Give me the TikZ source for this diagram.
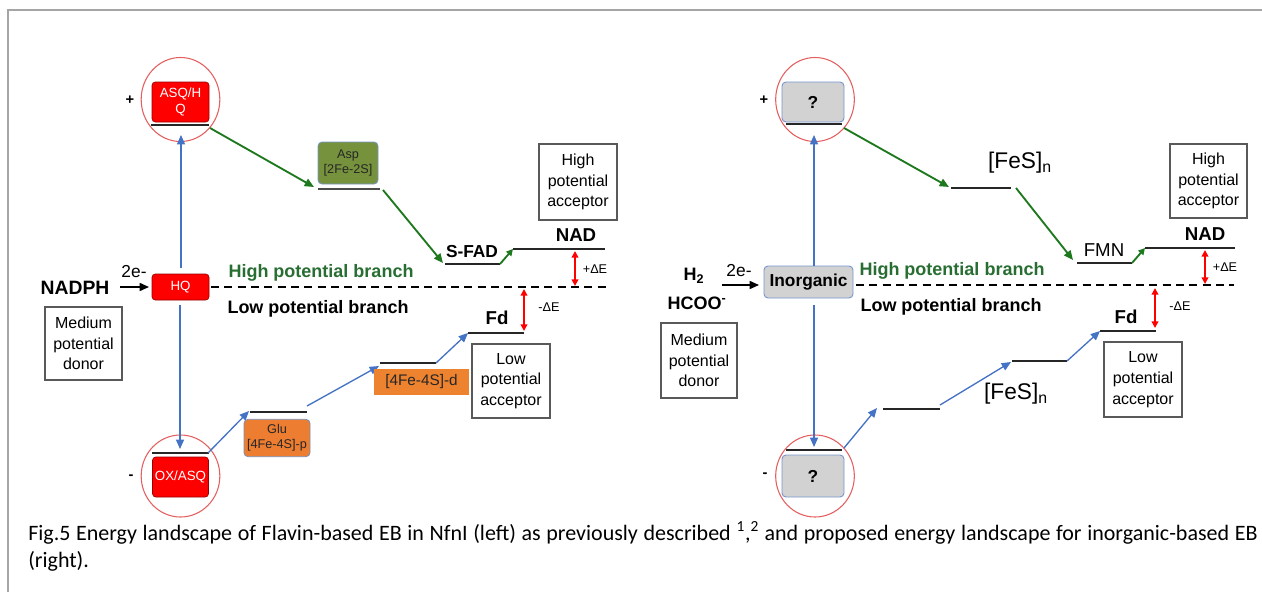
\documentclass[tikz,border=0pt]{standalone}
\usepackage{fontspec}
\setmainfont{Liberation Sans}
\newfontfamily\capfont{Carlito}
\usetikzlibrary{arrows.meta,shapes.geometric}
\definecolor{fbred}{RGB}{255,0,0}
\definecolor{ringred}{RGB}{228,95,95}
\definecolor{arrblue}{RGB}{68,114,196}
\definecolor{arrgreen}{RGB}{30,120,30}
\definecolor{txtgreen}{RGB}{40,110,50}
\definecolor{aspgreen}{RGB}{118,146,60}
\definecolor{gluorange}{RGB}{237,125,49}
\definecolor{boxgray}{RGB}{210,210,210}
\definecolor{boxblue}{RGB}{120,150,205}
\definecolor{framegray}{RGB}{165,165,165}
\tikzset{
  ring/.style={ellipse, draw=ringred, line width=0.8pt, minimum width=59pt, minimum height=63pt, inner sep=0pt},
  redbox/.style={rectangle, rounded corners=2.5pt, fill=fbred, draw=red!60!black, line width=0.5pt, text=white, font=\fontsize{10}{11.5}\selectfont, align=center, inner sep=0pt},
  aspbox/.style={rectangle, rounded corners=3pt, fill=aspgreen, draw=boxblue, line width=0.6pt, text=black!85, font=\fontsize{9.5}{11.5}\selectfont, align=center, inner sep=0pt},
  glubox/.style={rectangle, rounded corners=3pt, fill=gluorange, draw=boxblue!70!gray, line width=0.6pt, text=black!85, font=\fontsize{9.5}{11.5}\selectfont, align=center, inner sep=0pt},
  dbox/.style={rectangle, fill=gluorange!95!yellow, text=black!85, font=\fontsize{11.5}{12}\selectfont, inner sep=0pt},
  graybox/.style={rectangle, rounded corners=3pt, fill=boxgray, draw=boxblue, line width=0.7pt, text=black, font=\bfseries\fontsize{13}{14}\selectfont, inner sep=0pt},
  infobox/.style={rectangle, draw=black!65, line width=0.8pt, align=center, font=\fontsize{12}{15.5}\selectfont, inner sep=0pt},
  lvl/.style={line width=1.6pt, black!85},
  blarr/.style={arrblue, line width=1pt, -{Triangle[length=7pt,width=6pt]}},
  grarr/.style={arrgreen, line width=1.4pt, -{Triangle[length=7pt,width=6pt]}},
  blkarr/.style={black, line width=1.2pt, -{Triangle[length=7pt,width=6pt]}},
  dE/.style={red, line width=1.2pt, {Triangle[length=5pt,width=5pt]}-{Triangle[length=5pt,width=5pt]}},
  dashline/.style={line width=1.4pt, dash pattern=on 6pt off 4pt},
  lbl/.style={font=\bfseries\fontsize{13.5}{15}\selectfont, inner sep=0pt},
  small/.style={font=\fontsize{9.5}{11}\selectfont, inner sep=0pt},
  sign/.style={font=\bfseries\fontsize{11}{12}\selectfont, inner sep=0pt},
}
\begin{document}
\begin{tikzpicture}[x=0.75pt,y=-0.75pt]
\useasboundingbox (0,0) rectangle (1262,592);
\draw[framegray, line width=1.5pt] (8,592) -- (8,10) -- (1262,10);

% ================= LEFT PANEL =================
\node[ring] (c1) at (180.5,99.5) {};
\node[ring, minimum height=61.5pt] (c2) at (180.5,476) {};
\node[redbox, minimum width=42.75pt, minimum height=30pt] (asq) at (180.5,102) {ASQ/H\\Q};
\node[redbox, minimum width=42.75pt, minimum height=19.5pt] (hq) at (180.5,287) {HQ};
\node[redbox, minimum width=42pt, minimum height=30pt] (ox) at (180.5,477) {OX/ASQ};
\node[sign] (plusL) at (130,100) {+};
\node[sign] (minusL) at (131,477) {-};
\coordinate (La1) at (151,125); \coordinate (La2) at (209,125);
\coordinate (Lb1) at (152,453); \coordinate (Lb2) at (209,453);
\draw[lvl] (La1) -- (La2);
\draw[lvl] (Lb1) -- (Lb2);
\coordinate (hqtop) at (181,268); \coordinate (asqbot) at (181,135);
\coordinate (hqbot) at (180,305); \coordinate (oxtop) at (180,449);
\draw[blarr] (hqtop) -- (asqbot);
\draw[blarr] (hqbot) -- (oxtop);

% donor
\node[lbl, font=\bfseries\fontsize{14.5}{16}\selectfont] (nadph) at (75,288) {NADPH};
\coordinate (nadA) at (120,287); \coordinate (nadB) at (149,287);
\draw[blkarr] (nadA) -- (nadB);
\node[font=\fontsize{13}{14}\selectfont, inner sep=0pt] (e2L) at (134,272) {2e-};
\node[infobox, minimum width=57.75pt, minimum height=54.75pt] (mpdL) at (83.5,343.5) {Medium\\potential\\donor};

% high potential branch (left)
\node[aspbox, minimum width=45pt, minimum height=31.5pt] (asp) at (348,163) {Asp\\{[2Fe-2S]}};
\coordinate (Lc1) at (318,189); \coordinate (Lc2) at (380,189);
\draw[lvl, black!70] (Lc1) -- (Lc2);
\coordinate (g1s) at (210,128); \coordinate (g1e) at (314,187);
\draw[grarr] (g1s) -- (g1e);
\coordinate (g2s) at (383,190); \coordinate (g2e) at (443,263);
\draw[grarr] (g2s) -- (g2e);
\coordinate (Ld1) at (445,264); \coordinate (Ld2) at (500,264);
\draw[lvl] (Ld1) -- (Ld2);
\node[lbl, font=\bfseries\fontsize{13}{14}\selectfont] (sfad) at (472,252) {S-FAD};
\coordinate (Le1) at (513,249); \coordinate (Le2) at (605,249);
\draw[lvl] (Le1) -- (Le2);
\draw[grarr, -{Triangle[length=5pt,width=5pt]}] (Ld2) -- (Le1);
\node[lbl, font=\bfseries\fontsize{14}{15}\selectfont] (nadL) at (576,235) {NAD};
\node[infobox, minimum width=58.5pt, minimum height=57pt] (hpaL) at (578,182) {High\\potential\\acceptor};

% branch labels + dashed
\node[lbl, text=txtgreen] (hpbL) at (321,273) {High potential branch};
\node[lbl] (lpbL) at (318,309) {Low potential branch};
\coordinate (dsL) at (211,287); \coordinate (deL) at (606,287);
\draw[dashline] (dsL) -- (deL);
\coordinate (pe1) at (575,251); \coordinate (pe2) at (575,286);
\draw[dE] (pe1) -- (pe2);
\node[small] (peL) at (595,269) {+ΔE};
\coordinate (me1) at (524,289); \coordinate (me2) at (524,331);
\draw[dE] (me1) -- (me2);
\node[small] (meL) at (549,307) {-ΔE};

% low potential branch (left)
\coordinate (b1s) at (208,453); \coordinate (b1e) at (249,411);
\draw[blarr] (b1s) -- (b1e);
\coordinate (Lf1) at (250,412); \coordinate (Lf2) at (307,412);
\draw[lvl] (Lf1) -- (Lf2);
\node[glubox, minimum width=49.5pt, minimum height=28pt] (glu) at (277,438) {Glu\\{[4Fe-4S]-p}};
\coordinate (b2s) at (307,406); \coordinate (b2e) at (379,366);
\draw[blarr] (b2s) -- (b2e);
\coordinate (Lg1) at (380,363); \coordinate (Lg2) at (436,363);
\draw[lvl] (Lg1) -- (Lg2);
\node[dbox, minimum width=71.25pt, minimum height=19.5pt] (d4fe) at (421.5,382) {[4Fe-4S]-d};
\coordinate (Lh1) at (468,333); \coordinate (Lh2) at (524,333);
\draw[blarr] (Lg2) -- (Lh1);
\draw[lvl] (Lh1) -- (Lh2);
\node[lbl, font=\bfseries\fontsize{14}{15}\selectfont] (fdL) at (497,318) {Fd};
\node[infobox, minimum width=58.5pt, minimum height=55.5pt] (lpaL) at (511,381) {Low\\potential\\acceptor};

% ================= RIGHT PANEL =================
\node[ring] (c3) at (815,99.5) {};
\node[ring, minimum height=61.5pt] (c4) at (815,476) {};
\node[graybox, minimum width=46.5pt, minimum height=30pt] (qtop) at (813,102) {?};
\node[graybox, minimum width=46.5pt, minimum height=31.5pt] (qbot) at (813,476) {?};
\node[sign] (plusR) at (764,100) {+};
\node[sign] (minusR) at (765,475) {-};
\coordinate (Ra1) at (786,124); \coordinate (Ra2) at (842,124);
\coordinate (Rb1) at (786,450); \coordinate (Rb2) at (842,450);
\draw[lvl] (Ra1) -- (Ra2);
\draw[lvl] (Rb1) -- (Rb2);
\node[graybox, minimum width=66.75pt, minimum height=24pt] (inorg) at (808.5,282) {Inorganic};
\coordinate (intop) at (814,266); \coordinate (qtopbot) at (814,135);
\coordinate (inbot) at (814,305); \coordinate (qbottop) at (814,447);
\draw[blarr] (intop) -- (qtopbot);
\draw[blarr] (inbot) -- (qbottop);

\node[lbl, font=\bfseries\fontsize{13.5}{15}\selectfont] (h2) at (694,276) {H\textsubscript{2}};
\node[lbl, font=\bfseries\fontsize{13.5}{15}\selectfont] (hcoo) at (697,303) {HCOO\textsuperscript{-}};
\coordinate (inA) at (722,285); \coordinate (inB) at (759,285);
\draw[blkarr] (inA) -- (inB);
\node[font=\fontsize{13}{14}\selectfont, inner sep=0pt] (e2R) at (739,271) {2e-};
\node[infobox, minimum width=57pt, minimum height=56.25pt] (mpdR) at (699,360.5) {Medium\\potential\\donor};

% high potential branch (right)
\coordinate (r1s) at (844,128); \coordinate (r1e) at (949,187);
\draw[grarr] (r1s) -- (r1e);
\coordinate (Rc1) at (951,188); \coordinate (Rc2) at (1011,188);
\draw[lvl] (Rc1) -- (Rc2);
\node[font=\fontsize{17}{18}\selectfont, inner sep=0pt] (fes1) at (1020,163) {[FeS]\textsubscript{n}};
\coordinate (r2s) at (1016,188); \coordinate (r2e) at (1073,260);
\draw[grarr] (r2s) -- (r2e);
\coordinate (Rd1) at (1077,263); \coordinate (Rd2) at (1132,263);
\draw[lvl] (Rd1) -- (Rd2);
\node[font=\fontsize{14}{15}\selectfont, inner sep=0pt] (fmn) at (1104,250) {FMN};
\coordinate (Re1) at (1145,248); \coordinate (Re2) at (1235,248);
\draw[lvl] (Re1) -- (Re2);
\draw[grarr, -{Triangle[length=5pt,width=5pt]}] (Rd2) -- (Re1);
\node[lbl, font=\bfseries\fontsize{14}{15}\selectfont] (nadR) at (1205,234) {NAD};
\node[infobox, minimum width=57.75pt, minimum height=55.5pt] (hpaR) at (1208.5,181) {High\\potential\\acceptor};

\node[lbl, text=txtgreen] (hpbR) at (952,271) {High potential branch};
\node[lbl] (lpbR) at (951,307) {Low potential branch};
\coordinate (dsR) at (856,285); \coordinate (deR) at (1234,285);
\draw[dashline] (dsR) -- (deR);
\coordinate (rpe1) at (1205,250); \coordinate (rpe2) at (1205,284);
\draw[dE] (rpe1) -- (rpe2);
\node[small] (rpeL) at (1225,267) {+ΔE};
\coordinate (rme1) at (1155,288); \coordinate (rme2) at (1155,328);
\draw[dE] (rme1) -- (rme2);
\node[small] (rmeL) at (1180,306) {-ΔE};

% low potential branch (right)
\coordinate (s1s) at (844,448); \coordinate (s1e) at (877,408);
\draw[blarr] (s1s) -- (s1e);
\coordinate (Rf1) at (883,409); \coordinate (Rf2) at (940,409);
\draw[lvl] (Rf1) -- (Rf2);
\coordinate (s2s) at (940,405); \coordinate (s2e) at (1011,362);
\draw[blarr] (s2s) -- (s2e);
\coordinate (Rg1) at (1012,361); \coordinate (Rg2) at (1067,361);
\draw[lvl] (Rg1) -- (Rg2);
\node[font=\fontsize{17}{18}\selectfont, inner sep=0pt] (fes2) at (1016,394) {[FeS]\textsubscript{n}};
\coordinate (Rh1) at (1100,331); \coordinate (Rh2) at (1156,331);
\draw[blarr] (Rg2) -- (Rh1);
\draw[lvl] (Rh1) -- (Rh2);
\node[lbl, font=\bfseries\fontsize{14}{15}\selectfont] (fdR) at (1126,317) {Fd};
\node[infobox, minimum width=58.5pt, minimum height=56.25pt] (lpaR) at (1143,379.5) {Low\\potential\\acceptor};

% ================= CAPTION =================
\node[anchor=base west, inner sep=0pt, font=\capfont\fontsize{16.5}{19}\selectfont] (cap1) at (28,540)
  {\makebox[922pt][s]{Fig.5 Energy landscape of Flavin-based EB in NfnI (left) as previously described \textsuperscript{1},\textsuperscript{2} and proposed energy landscape for inorganic-based EB}};
\node[anchor=base west, inner sep=0pt, font=\capfont\fontsize{16.5}{19}\selectfont] (cap2) at (28,567) {(right).};
\end{tikzpicture}
\end{document}
